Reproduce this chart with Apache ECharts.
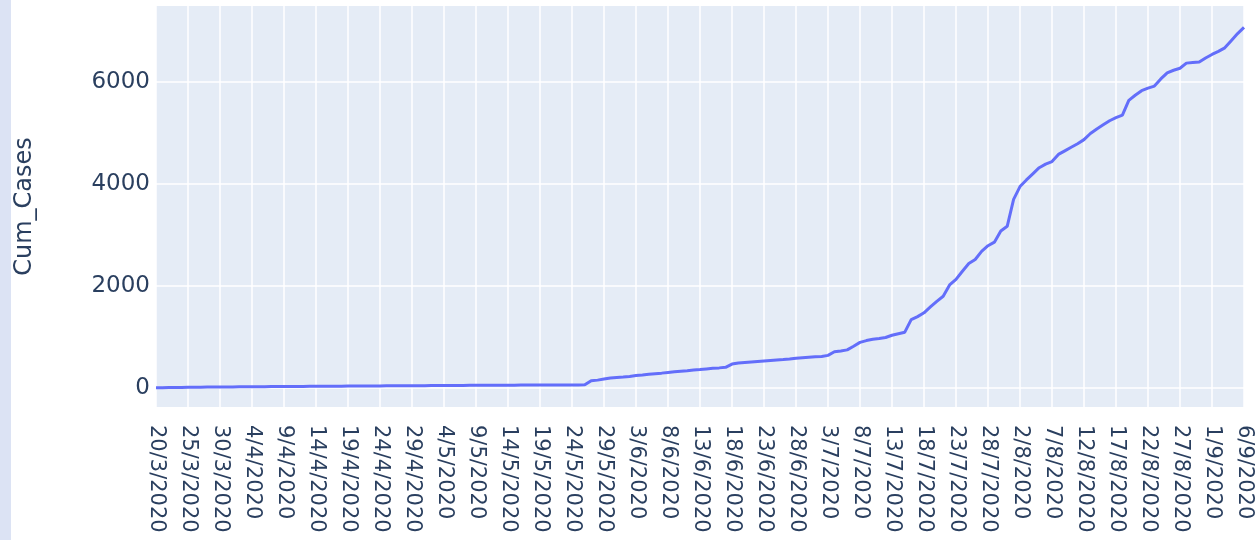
<!DOCTYPE html>
<html>
<head>
<meta charset="utf-8">
<script src="https://cdn.jsdelivr.net/npm/echarts@6/dist/echarts.min.js"></script>
<style>
  html, body { margin: 0; padding: 0; background: #ffffff; }
  #chart { width: 1256px; height: 540px; }
</style>
</head>
<body>
<div id="chart"></div>
<script>
// ---- data ----
var startDate = [2020, 3, 20];   // first category: 20/3/2020
var dayCount = 171;              // daily categories through 6/9/2020
var yTicks = [0, 2000, 4000, 6000];
var yTitle = 'Cum_Cases';

// cumulative cases, 20/3/2020 .. 26/5/2020
var cumCasesSpring = [
  4, 6, 8, 10, 12, 15, 16, 17, 18, 19,
  20, 21, 22, 23, 24, 25, 26, 27, 28, 28,
  29, 30, 31, 32, 33, 34, 34, 35, 36, 37,
  38, 39, 40, 40, 41, 42, 43, 43, 44, 45,
  46, 46, 47, 48, 48, 49, 50, 50, 51, 52,
  52, 53, 54, 54, 55, 55, 56, 57, 57, 58,
  58, 59, 59, 60, 60, 61, 61, 62
];
// cumulative cases, 27/5/2020 .. 6/9/2020
var cumCasesSummer = [
  145, 155, 175, 195, 205, 215, 228, 245, 255, 268,
  280, 292, 305, 318, 330, 340, 352, 362, 374, 386,
  395, 405, 470, 490, 500, 510, 520, 530, 540, 550,
  558, 567, 585, 595, 605, 615, 618, 640, 710, 728,
  748, 820, 895, 930, 955, 970, 990, 1035, 1065, 1095,
  1340, 1400, 1475, 1590, 1700, 1800, 2020, 2130, 2290, 2440,
  2520, 2680, 2790, 2860, 3080, 3170, 3700, 3950, 4080, 4200,
  4320, 4390, 4440, 4580, 4650, 4720, 4790, 4870, 4990, 5080,
  5160, 5240, 5300, 5350, 5640, 5740, 5830, 5880, 5920, 6060,
  6180, 6230, 6270, 6370, 6380, 6390, 6470, 6540, 6600, 6670,
  6810, 6950, 7070
];

// ---- build ----
var dates = [];
for (var i = 0; i < dayCount; i++) {
  var d = new Date(Date.UTC(startDate[0], startDate[1] - 1, startDate[2] + i));
  dates.push(d.getUTCDate() + '/' + (d.getUTCMonth() + 1) + '/' + d.getUTCFullYear());
}
var cumCases = cumCasesSpring.concat(cumCasesSummer);

var FONT = 'DejaVu Sans';
var TXT = '#2a3f5f';

var chart = echarts.init(document.getElementById('chart'), null, { renderer: 'canvas' });
chart.setOption({
  backgroundColor: '#ffffff',
  animation: false,
  graphic: [{
    type: 'rect', left: 0, top: 0, z: -10,
    shape: { width: 11, height: 540 },
    style: { fill: '#dce3f4' }
  }],
  grid: {
    left: 156, right: 12, top: 6, bottom: 133,
    show: true, backgroundColor: '#e5ecf6', borderWidth: 0
  },
  xAxis: {
    type: 'category',
    data: dates,
    boundaryGap: false,
    axisLine: { show: false },
    axisTick: { show: false },
    axisLabel: {
      interval: 4,
      rotate: -90,
      margin: 18,
      padding: [10, 0, 0, 0],
      color: TXT,
      fontFamily: FONT,
      fontSize: 21
    },
    splitLine: {
      show: true,
      interval: 4,
      lineStyle: { color: '#ffffff', width: 1.5 }
    }
  },
  yAxis: {
    type: 'value',
    min: -372,
    max: 7490,
    name: yTitle,
    nameLocation: 'middle',
    nameGap: 119,
    nameTextStyle: { color: TXT, fontFamily: FONT, fontSize: 24 },
    axisLine: { show: false },
    axisTick: { show: false, customValues: yTicks },
    axisLabel: {
      customValues: yTicks,
      formatter: function (v) { return String(v); },
      margin: 6,
      color: TXT,
      fontFamily: FONT,
      fontSize: 23
    },
    splitLine: {
      show: true,
      lineStyle: { color: '#ffffff', width: 1.5 }
    }
  },
  series: [{
    type: 'line',
    data: cumCases,
    showSymbol: false,
    symbol: 'none',
    lineStyle: { color: '#636efa', width: 3 },
    itemStyle: { color: '#636efa' }
  }]
});
</script>
</body>
</html>
